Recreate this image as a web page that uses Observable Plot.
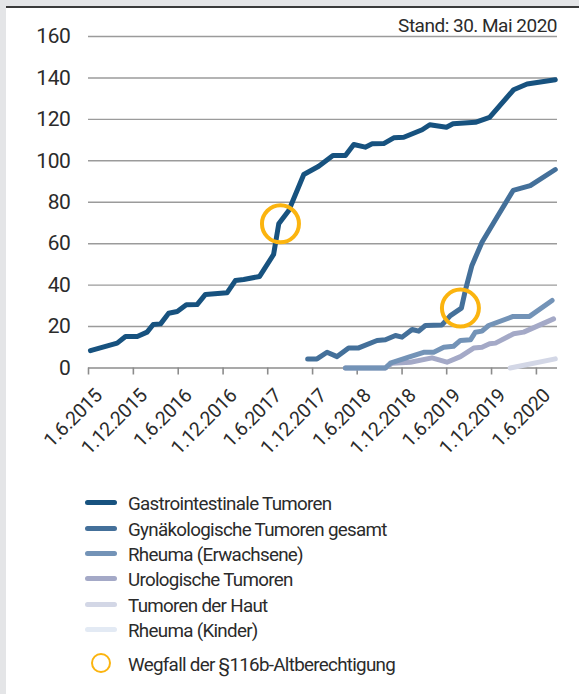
<!DOCTYPE html>
<html>
<head>
<meta charset="utf-8">
<script src="https://cdn.jsdelivr.net/npm/d3@7"></script>
<script src="https://cdn.jsdelivr.net/npm/@observablehq/plot@0.6"></script>
<style>
  html, body { margin: 0; padding: 0; background: #fff; }
  #wrap { position: relative; width: 579px; height: 694px; overflow: hidden; background: #fff;
          font-family: Roboto, "Noto Sans", sans-serif; color: #2b2b2b; }
  #leftband { position: absolute; left: 0; top: 0; width: 6px; height: 694px; background: #e4e5e7; }
  #topband { position: absolute; left: 0; top: 0; width: 579px; height: 6px; background: #e4e5e7; }
  #topline { position: absolute; left: 6px; top: 6px; width: 573px; height: 2px; background: #3a3a3a; }
  #chart { position: absolute; left: 0; top: 0; }
  #stand { position: absolute; right: 22px; top: 15px; font-size: 19px; letter-spacing: -0.5px; line-height: 22px; color: #2b2b2b; }
  .row { position: absolute; left: 0; height: 25px; line-height: 25px; font-size: 18.8px; letter-spacing: -0.7px; padding-left: 128px; white-space: nowrap; color: #2b2b2b; }
  .sw { position: absolute; left: 85px; top: 8px; width: 32px; height: 5px; border-radius: 3px; }
  .circ { position: absolute; left: 89px; top: 0px; }
</style>
</head>
<body>
<div id="wrap">
  <div id="leftband"></div>
  <div id="topband"></div>
  <div id="topline"></div>
  <div id="chart"></div>
  <div id="stand">Stand: 30. Mai 2020</div>
  <div id="legend"></div>
</div>
<script>
// ---- Data ----
const seriesNames = [
  "Gastrointestinale Tumoren",
  "Gynäkologische Tumoren gesamt",
  "Rheuma (Erwachsene)",
  "Urologische Tumoren",
  "Tumoren der Haut",
  "Rheuma (Kinder)"
];
const seriesColors = ["#17527f", "#44709a", "#7393b7", "#a4a9c7", "#d3d7e6", "#e3eaf4"];

const gastroDates = ["2015-06-09","2015-09-26","2015-10-30","2015-12-17","2016-01-26","2016-02-20","2016-03-21","2016-04-23","2016-05-28","2016-07-04","2016-08-17","2016-09-20","2016-12-17","2017-01-20","2017-02-23","2017-04-29","2017-06-25","2017-07-16","2017-08-26","2017-10-26","2017-12-26","2018-02-22","2018-04-14","2018-05-18","2018-07-04","2018-08-01","2018-09-17","2018-10-28","2018-12-08","2019-02-21","2019-03-24","2019-05-31","2019-06-27","2019-09-26","2019-11-23","2020-02-29","2020-04-24","2020-08-17"];
const gastroValues = [8.4,12.0,15.2,15.2,17.3,21.0,21.3,26.4,27.3,30.5,30.6,35.5,36.3,42.2,42.7,44.2,54.8,69.6,76.0,93.4,97.4,102.6,102.6,107.9,106.6,108.2,108.3,111.1,111.4,115.0,117.4,116.2,117.9,118.6,121.0,134.3,137.1,139.1];

const gynDates = ["2017-11-11","2017-12-19","2018-01-29","2018-03-11","2018-04-27","2018-06-07","2018-08-21","2018-09-24","2018-11-04","2018-12-01","2019-01-11","2019-02-07","2019-03-06","2019-05-13","2019-06-16","2019-07-31","2019-08-16","2019-09-12","2019-10-23","2019-12-23","2020-02-27","2020-05-07","2020-08-17"];
const gynValues = [4.4,4.4,7.6,5.5,9.7,9.7,13.3,13.6,15.7,14.9,18.6,17.8,20.5,20.8,25.3,28.9,37.4,49.5,60.7,72.8,85.7,88.0,95.8];

const rheumaDates = ["2018-04-14","2018-09-24","2018-10-14","2018-12-28","2019-02-27","2019-04-09","2019-05-20","2019-06-29","2019-07-27","2019-09-06","2019-09-26","2019-10-23","2019-11-19","2020-02-27","2020-05-04","2020-08-04"];
const rheumaValues = [0,0,2.3,5.2,7.6,7.6,10.0,10.5,13.3,13.6,17.3,17.8,20.5,24.9,24.9,32.6];

const uroDates = ["2018-04-14","2018-09-24","2018-10-21","2019-01-04","2019-04-02","2019-06-02","2019-07-27","2019-09-19","2019-10-23","2019-11-23","2019-12-17","2020-02-29","2020-04-10","2020-08-10"];
const uroValues = [0,0,2.3,2.8,4.9,2.8,5.5,9.6,10.0,11.7,12.0,16.5,17.3,23.7];

const hautDates = ["2020-02-15","2020-08-17"];
const hautValues = [0,4.4];

// Markers: "Wegfall der §116b-Altberechtigung"
const markerDates = ["2017-07-23","2019-07-27"];
const markerValues = [69.6, 28.9];

const yTicks = [0,20,40,60,80,100,120,140,160];
const xTickDates = ["2015-06-01","2015-12-01","2016-06-01","2016-12-01","2017-06-01","2017-12-01","2018-06-01","2018-12-01","2019-06-01","2019-12-01","2020-06-01"];
const xTickLabels = ["1.6.2015","1.12.2015","1.6.2016","1.12.2016","1.6.2017","1.12.2017","1.6.2018","1.12.2018","1.6.2019","1.12.2019","1.6.2020"];
const markerLabel = "Wegfall der §116b-Altberechtigung";

// ---- Build tables ----
const P = d3.utcParse("%Y-%m-%d");
const mk = (ds, vs) => ds.map((d, i) => ({date: P(d), value: vs[i]}));
const lines = [
  {name: seriesNames[0], color: seriesColors[0], data: mk(gastroDates, gastroValues)},
  {name: seriesNames[1], color: seriesColors[1], data: mk(gynDates, gynValues)},
  {name: seriesNames[2], color: seriesColors[2], data: mk(rheumaDates, rheumaValues)},
  {name: seriesNames[3], color: seriesColors[3], data: mk(uroDates, uroValues)},
  {name: seriesNames[4], color: seriesColors[4], data: mk(hautDates, hautValues)}
];
const markers = mk(markerDates, markerValues);
const xTicks = xTickDates.map(P);

const lineMarks = lines.slice().reverse().map(s =>
  Plot.line(s.data, {x: "date", y: "value", stroke: s.color, strokeWidth: 5,
                     strokeLinejoin: "round", strokeLinecap: "round"}));

const chart = Plot.plot({
  width: 579,
  height: 470,
  marginLeft: 88,
  marginRight: 22,
  marginTop: 36,
  marginBottom: 102.5,
  style: {background: "transparent", fontFamily: "Roboto, sans-serif", color: "#2b2b2b"},
  x: {type: "utc", domain: [P("2015-06-01"), P("2020-08-26")]},
  y: {domain: [0, 160]},
  marks: [
    Plot.gridY(yTicks.filter(d => d > 0), {stroke: "#9b9b9b", strokeOpacity: 1, strokeWidth: 1.4}),
    Plot.axisY(yTicks, {tickSize: 0, tickPadding: 18, fontSize: 21, label: null, fill: "#2b2b2b"}),
    Plot.ruleY([0], {stroke: "#8c8c8c", strokeWidth: 1.6}),
    Plot.axisX(xTicks, {tickSize: 7, stroke: "#8c8c8c", strokeWidth: 1.6, tickFormat: () => "", label: null}),
    Plot.text(xTicks, {x: d => d, text: (d, i) => xTickLabels[i], frameAnchor: "bottom",
                       rotate: -45, textAnchor: "end", lineAnchor: "top", dx: 5, dy: 19,
                       fontSize: 19.5, fill: "#2b2b2b"}),
    ...lineMarks,
    Plot.dot(markers, {x: "date", y: "value", r: 18.5, stroke: "#fbb40f", strokeWidth: 4, fill: "none"})
  ]
});
chart.style.letterSpacing = "-0.4px";
document.getElementById("chart").appendChild(chart);

// ---- Legend ----
const legend = document.getElementById("legend");
const rowTop0 = 492.2, pitch = 25.4;
seriesNames.forEach((name, i) => {
  const row = document.createElement("div");
  row.className = "row";
  row.style.top = (rowTop0 + i * pitch) + "px";
  const sw = document.createElement("span");
  sw.className = "sw";
  sw.style.background = seriesColors[i];
  row.appendChild(sw);
  row.appendChild(document.createTextNode(name));
  legend.appendChild(row);
});
const mrow = document.createElement("div");
mrow.className = "row";
mrow.style.top = "652.9px";
mrow.innerHTML = '<svg class="circ" width="24" height="24" style="top:-1.5px"><circle cx="12" cy="12" r="9" fill="none" stroke="#fbb40f" stroke-width="2"/></svg>';
mrow.appendChild(document.createTextNode(markerLabel));
legend.appendChild(mrow);
</script>
</body>
</html>
